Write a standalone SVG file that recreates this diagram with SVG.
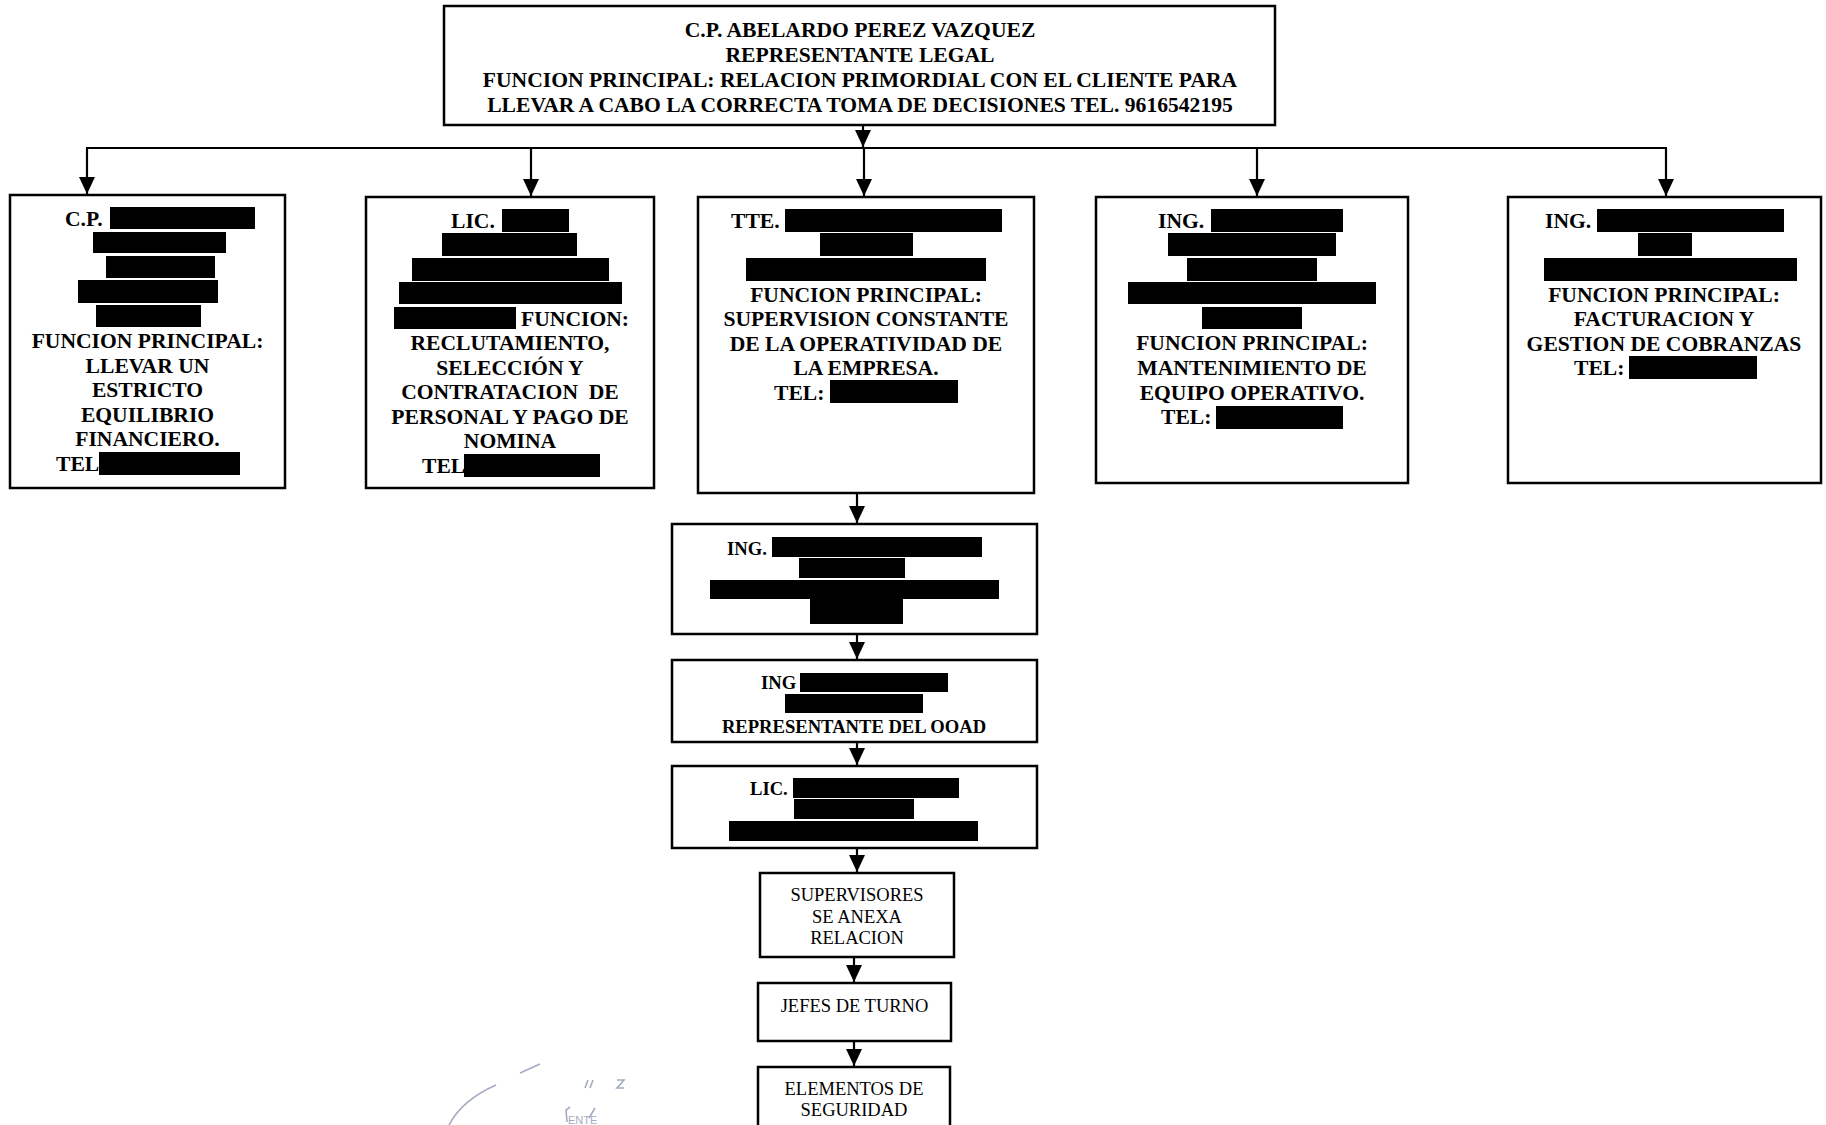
<svg xmlns="http://www.w3.org/2000/svg" width="1826" height="1125" viewBox="0 0 1826 1125">
<style>
.box{fill:#fff;stroke:#000;stroke-width:2.5}
.b{font-family:"Liberation Serif","Times New Roman",serif;font-weight:bold;font-size:21.6px;fill:#000}
.bs{font-family:"Liberation Serif","Times New Roman",serif;font-weight:bold;font-size:18.6px;fill:#000}
.r{font-family:"Liberation Serif","Times New Roman",serif;font-size:18.5px;fill:#000}
.c{text-anchor:middle}
.red{fill:#000}
.ln{stroke:#000;stroke-width:2.2;fill:none}
.arr{stroke:#000;stroke-width:2.2;fill:none;marker-end:url(#ah)}
.st{stroke:#8f96b0;stroke-width:1.6;fill:none;opacity:0.8}
</style>
<defs>
<marker id="ah" markerUnits="userSpaceOnUse" markerWidth="18" markerHeight="18" viewBox="0 0 18 18" refX="17" refY="9" orient="auto">
<path d="M0,1 L17,9 L0,17 Z" fill="#000"/>
</marker>
</defs>
<rect width="1826" height="1125" fill="#fff"/>

<g id="connectors">
<line class="arr" x1="863" y1="125" x2="863" y2="147"/>
<line class="ln" x1="86" y1="148" x2="1667" y2="148"/>
<line class="arr" x1="87" y1="148" x2="87" y2="194"/>
<line class="arr" x1="531" y1="148" x2="531" y2="196"/>
<line class="arr" x1="864" y1="148" x2="864" y2="196"/>
<line class="arr" x1="1257" y1="148" x2="1257" y2="196"/>
<line class="arr" x1="1666" y1="148" x2="1666" y2="196"/>
<line class="arr" x1="857" y1="488" x2="857" y2="523"/>
<line class="arr" x1="857" y1="634" x2="857" y2="659"/>
<line class="arr" x1="857" y1="742" x2="857" y2="765"/>
<line class="arr" x1="857" y1="848" x2="857" y2="872"/>
<line class="arr" x1="854" y1="957" x2="854" y2="982"/>
<line class="arr" x1="854" y1="1041" x2="854" y2="1066"/>
</g>

<g id="n-top">
<rect class="box" x="444" y="6" width="831" height="119"/>
<text class="b c" x="860" y="37">C.P. ABELARDO PEREZ VAZQUEZ</text>
<text class="b c" x="860" y="62">REPRESENTANTE LEGAL</text>
<text class="b c" x="860" y="87">FUNCION PRINCIPAL: RELACION PRIMORDIAL CON EL CLIENTE PARA</text>
<text class="b c" x="860" y="111.5">LLEVAR A CABO LA CORRECTA TOMA DE DECISIONES TEL. 9616542195</text>
</g>

<g id="n-cp">
<rect class="box" x="10" y="195" width="275" height="293"/>
<text class="b" x="65" y="226">C.P.</text>
<rect class="red" x="110" y="207" width="145" height="22"/>
<rect class="red" x="93" y="232" width="133" height="21"/>
<rect class="red" x="106" y="256" width="109" height="22"/>
<rect class="red" x="78" y="280" width="140" height="23"/>
<rect class="red" x="96" y="305" width="105" height="22"/>
<text class="b c" x="147.5" y="348">FUNCION PRINCIPAL:</text>
<text class="b c" x="147.5" y="372.5">LLEVAR UN</text>
<text class="b c" x="147.5" y="397">ESTRICTO</text>
<text class="b c" x="147.5" y="421.5">EQUILIBRIO</text>
<text class="b c" x="147.5" y="446">FINANCIERO.</text>
<text class="b" x="56" y="470.5">TEL</text>
<rect class="red" x="99" y="452" width="141" height="23"/>
</g>

<g id="n-lic">
<rect class="box" x="366" y="197" width="288" height="291"/>
<text class="b" x="451" y="228">LIC.</text>
<rect class="red" x="502" y="209" width="67" height="23"/>
<rect class="red" x="442" y="233" width="135" height="23"/>
<rect class="red" x="412" y="258" width="197" height="23"/>
<rect class="red" x="399" y="282" width="223" height="22"/>
<rect class="red" x="394" y="307" width="122" height="22"/>
<text class="b" x="521" y="326">FUNCION:</text>
<text class="b c" x="510" y="350">RECLUTAMIENTO,</text>
<text class="b c" x="510" y="375">SELECCIÓN Y</text>
<text class="b c" x="510" y="399" xml:space="preserve">CONTRATACION  DE</text>
<text class="b c" x="510" y="424">PERSONAL Y PAGO DE</text>
<text class="b c" x="510" y="448">NOMINA</text>
<text class="b" x="422" y="473">TEL</text>
<rect class="red" x="464" y="454" width="136" height="23"/>
</g>

<g id="n-tte">
<rect class="box" x="698" y="197" width="336" height="296"/>
<text class="b" x="731" y="228">TTE.</text>
<rect class="red" x="785" y="209" width="217" height="23"/>
<rect class="red" x="820" y="233" width="93" height="23"/>
<rect class="red" x="746" y="258" width="240" height="23"/>
<text class="b c" x="866" y="301.5">FUNCION PRINCIPAL:</text>
<text class="b c" x="866" y="326">SUPERVISION CONSTANTE</text>
<text class="b c" x="866" y="350.5">DE LA OPERATIVIDAD DE</text>
<text class="b c" x="866" y="375">LA EMPRESA.</text>
<text class="b" x="774" y="399.5">TEL:</text>
<rect class="red" x="830" y="380" width="128" height="23"/>
</g>

<g id="n-ing-mant">
<rect class="box" x="1096" y="197" width="312" height="286"/>
<text class="b" x="1158" y="228">ING.</text>
<rect class="red" x="1211" y="209" width="132" height="23"/>
<rect class="red" x="1168" y="233" width="168" height="23"/>
<rect class="red" x="1187" y="258" width="130" height="23"/>
<rect class="red" x="1128" y="282" width="248" height="22"/>
<rect class="red" x="1202" y="307" width="100" height="22"/>
<text class="b c" x="1252" y="350">FUNCION PRINCIPAL:</text>
<text class="b c" x="1252" y="375">MANTENIMIENTO DE</text>
<text class="b c" x="1252" y="399.5">EQUIPO OPERATIVO.</text>
<text class="b" x="1161" y="424">TEL:</text>
<rect class="red" x="1216" y="406" width="127" height="23"/>
</g>

<g id="n-ing-fact">
<rect class="box" x="1508" y="197" width="313" height="286"/>
<text class="b" x="1545" y="228">ING.</text>
<rect class="red" x="1597" y="209" width="187" height="23"/>
<rect class="red" x="1638" y="233" width="54" height="23"/>
<rect class="red" x="1544" y="258" width="253" height="23"/>
<text class="b c" x="1664" y="301.5">FUNCION PRINCIPAL:</text>
<text class="b c" x="1664" y="326">FACTURACION Y</text>
<text class="b c" x="1664" y="350.5">GESTION DE COBRANZAS</text>
<text class="b" x="1574" y="375">TEL:</text>
<rect class="red" x="1629" y="356" width="128" height="23"/>
</g>

<g id="n-ing-op">
<rect class="box" x="672" y="524" width="365" height="110"/>
<text class="bs" x="727" y="555">ING.</text>
<rect class="red" x="772" y="537" width="210" height="20"/>
<rect class="red" x="799" y="558" width="106" height="20"/>
<rect class="red" x="710" y="580" width="289" height="19"/>
<rect class="red" x="810" y="599" width="93" height="25"/>
</g>

<g id="n-ing-ooad">
<rect class="box" x="672" y="660" width="365" height="82"/>
<text class="bs" x="761" y="688.5">ING</text>
<rect class="red" x="800" y="673" width="148" height="19"/>
<rect class="red" x="785" y="694" width="138" height="19"/>
<text class="bs c" x="854" y="733">REPRESENTANTE DEL OOAD</text>
</g>

<g id="n-lic2">
<rect class="box" x="672" y="766" width="365" height="82"/>
<text class="bs" x="750" y="795">LIC.</text>
<rect class="red" x="793" y="778" width="166" height="20"/>
<rect class="red" x="794" y="799" width="120" height="20"/>
<rect class="red" x="729" y="821" width="249" height="20"/>
</g>

<g id="n-sup">
<rect class="box" x="760" y="873" width="194" height="84"/>
<text class="r c" x="857" y="901">SUPERVISORES</text>
<text class="r c" x="857" y="923">SE ANEXA</text>
<text class="r c" x="857" y="944">RELACION</text>
</g>

<g id="n-jefes">
<rect class="box" x="758" y="983" width="193" height="58"/>
<text class="r c" x="854.5" y="1012">JEFES DE TURNO</text>
</g>

<g id="n-elem">
<rect class="box" x="758" y="1067" width="192" height="80"/>
<text class="r c" x="854" y="1095">ELEMENTOS DE</text>
<text class="r c" x="854" y="1116">SEGURIDAD</text>
</g>

<g id="stamp">
<path class="st" d="M449,1125 Q462,1100 496,1085"/>
<path class="st" d="M520,1073 L540,1064"/>
<path class="st" d="M585,1088 L588,1080 M590,1088 L593,1080"/>
<path class="st" d="M617,1080 L624,1080 L617,1088 L624,1088"/>
<path class="st" d="M567,1122 L566,1110 L570,1107 M589,1118 L595,1108"/>
<text x="568" y="1124" font-family="Liberation Sans, Arial, sans-serif" font-size="11" fill="#8f96b0" opacity="0.8">ENTE</text>
</g>
</svg>
